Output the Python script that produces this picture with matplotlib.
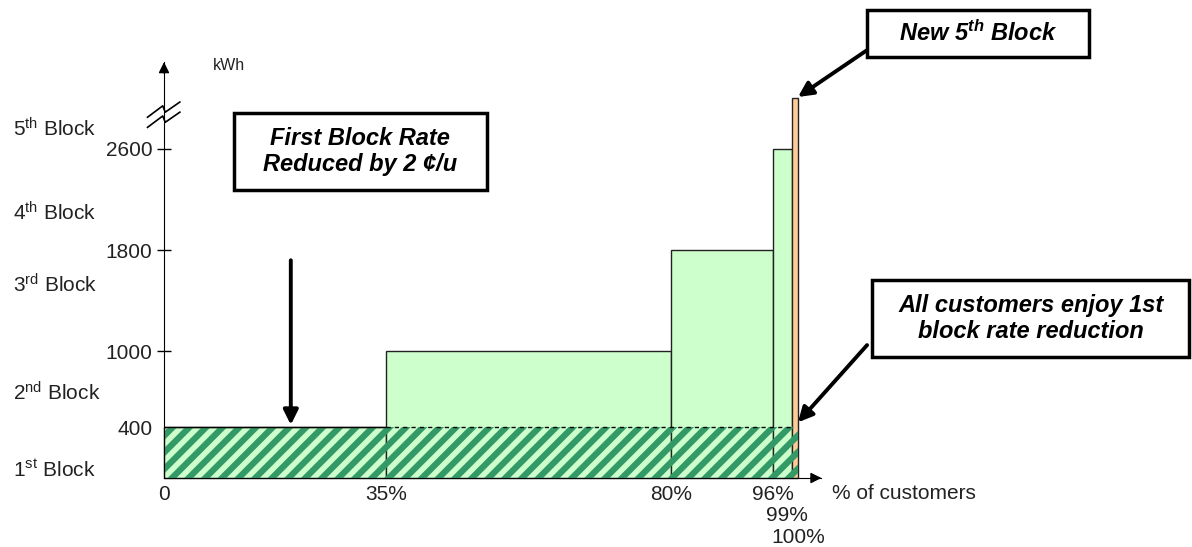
import numpy as np
import matplotlib.pyplot as plt
from matplotlib.patches import Rectangle

plt.rcParams['font.family'] = 'Liberation Sans'
plt.rcParams['mathtext.fontset'] = 'custom'
plt.rcParams['mathtext.rm'] = 'Liberation Sans'
plt.rcParams['mathtext.it'] = 'Liberation Sans:italic'
plt.rcParams['mathtext.bf'] = 'Liberation Sans:bold'
plt.rcParams['mathtext.bfit'] = 'Liberation Sans:bold:italic'
plt.rcParams['hatch.linewidth'] = 4.5

# Cumulative share of customers (%) at each block boundary, and kWh level reached
edges = [0, 35, 80, 96, 99, 100]
kwh = [400, 1000, 1800, 2600, 3000]
bar_colors = ['#ccffcc', '#ccffcc', '#ccffcc', '#ccffcc', '#ffcc99']
first_block = 400

yticks = [400, 1000, 1800, 2600]
xticks = [0, 35, 80, 96, 99, 100]
xticklabels = ['0', '35%', '80%', '96%', '99%', '100%']
# crowded labels near 100% are stacked on extra rows
xtick_rows = [0, 0, 0, 0, 1, 2]

block_names = ['1$^{\\mathrm{st}}$ Block', '2$^{\\mathrm{nd}}$ Block',
               '3$^{\\mathrm{rd}}$ Block', '4$^{\\mathrm{th}}$ Block',
               '5$^{\\mathrm{th}}$ Block']
block_label_y = [63, 671, 1524, 2093, 2757]

fig = plt.figure(figsize=(11.92, 5.47), dpi=100)
ax = fig.add_axes([0, 0, 1, 1])
ax.set_xlim(-25.87, 162.15)
ax.set_ylim(-545, 3776)

# Stepped blocks
widths = np.diff(edges)
ax.bar(edges[:-1], kwh, width=widths, align='edge', color=bar_colors,
       edgecolor='#222222', linewidth=1, zorder=2)

# First block band shared by every customer
ax.bar(edges[0], first_block, width=edges[-1] - edges[0], align='edge',
       facecolor='none', edgecolor='#339966', hatch='//', linewidth=0, zorder=3)
ax.hlines(first_block, edges[1], edges[-2], colors='black', linewidth=1,
          linestyles=(0, (3, 3)), zorder=4)
ax.hlines(first_block, edges[0], edges[1], colors='black', linewidth=1, zorder=4)

# Axes through the origin, finished with arrow heads
for side in ['top', 'right']:
    ax.spines[side].set_visible(False)
ax.spines['left'].set_position(('data', 0))
ax.spines['bottom'].set_position(('data', 0))
ax.spines['left'].set_bounds(0, 3285)
ax.spines['bottom'].set_bounds(0, 103.7)
ax.spines['left'].set_zorder(5)
ax.spines['bottom'].set_zorder(5)
ax.annotate('', xy=(0, 3285), xytext=(0, 3200),
            arrowprops=dict(arrowstyle='-|>', lw=1, color='black',
                            mutation_scale=16, shrinkA=0, shrinkB=0), zorder=5)
ax.annotate('', xy=(103.7, 0), xytext=(102, 0),
            arrowprops=dict(arrowstyle='-|>', lw=1, color='black',
                            mutation_scale=16, shrinkA=0, shrinkB=0), zorder=5)

# Axis break mark
for dy in (-40, 40):
    ax.plot([-2.6, -0.2, 0.2, 2.5], np.array([2810, 2900, 2850, 2930]) + dy,
            color='black', lw=1.2, zorder=6, clip_on=False)

ax.set_yticks(yticks)
ax.set_yticklabels([str(v) for v in yticks])
ax.tick_params(axis='y', direction='inout', length=9.5, width=1, pad=3.5,
               labelsize=15, labelcolor='#222222')
ax.yaxis.get_major_ticks()[0].tick1line.set_visible(False)
ax.set_xticks(xticks)
ax.set_xticklabels([lbl if row == 0 else '' for lbl, row in zip(xticklabels, xtick_rows)])
ax.tick_params(axis='x', length=0, pad=5, labelsize=15, labelcolor='#222222')
for x, lbl, row in zip(xticks, xticklabels, xtick_rows):
    if row > 0:
        ax.annotate(lbl, xy=(x, 0), xytext=(-3.5 * (row == 1), -11 - 15.8 * row),
                    textcoords='offset points', ha='center', va='center',
                    fontsize=15, color='#222222')

for name, y in zip(block_names, block_label_y):
    ax.text(-23.8, y, name, fontsize=15, color='#222222', ha='left', va='center')

ax.text(7.7, 3262, 'kWh', fontsize=11.5, color='#222222', ha='left', va='center')
ax.text(105.4, -120, '% of customers', fontsize=15, color='#222222',
        ha='left', va='center')

# Callout boxes
callouts = [
    ((11.0, 2275), (50.95, 2883), 'First Block Rate\nReduced by 2 ¢/u'),
    ((110.9, 3325), (145.9, 3697), 'New 5$^{\\mathbfit{th}}$ Block'),
    ((111.7, 956), (161.75, 1564), 'All customers enjoy 1st\nblock rate reduction'),
]
for (x0, y0), (x1, y1), txt in callouts:
    ax.add_patch(Rectangle((x0, y0), x1 - x0, y1 - y0, facecolor='white',
                           edgecolor='black', linewidth=2.5, zorder=6,
                           clip_on=False))
    ax.text((x0 + x1) / 2, (y0 + y1) / 2, txt, fontsize=17, fontweight='bold',
            fontstyle='italic', ha='center', va='center', linespacing=1.15,
            zorder=7)

arrow_kw = dict(arrowstyle='-|>', lw=2.8, color='black', mutation_scale=22,
                shrinkA=0, shrinkB=0)
ax.annotate('', xy=(20.0, 420), xytext=(20.0, 1720), arrowprops=arrow_kw, zorder=7)
ax.annotate('', xy=(100.0, 3010), xytext=(110.9, 3380), arrowprops=arrow_kw, zorder=7)
ax.annotate('', xy=(100.0, 440), xytext=(110.9, 1050), arrowprops=arrow_kw, zorder=7)

fig.savefig('out.png', dpi=100)
